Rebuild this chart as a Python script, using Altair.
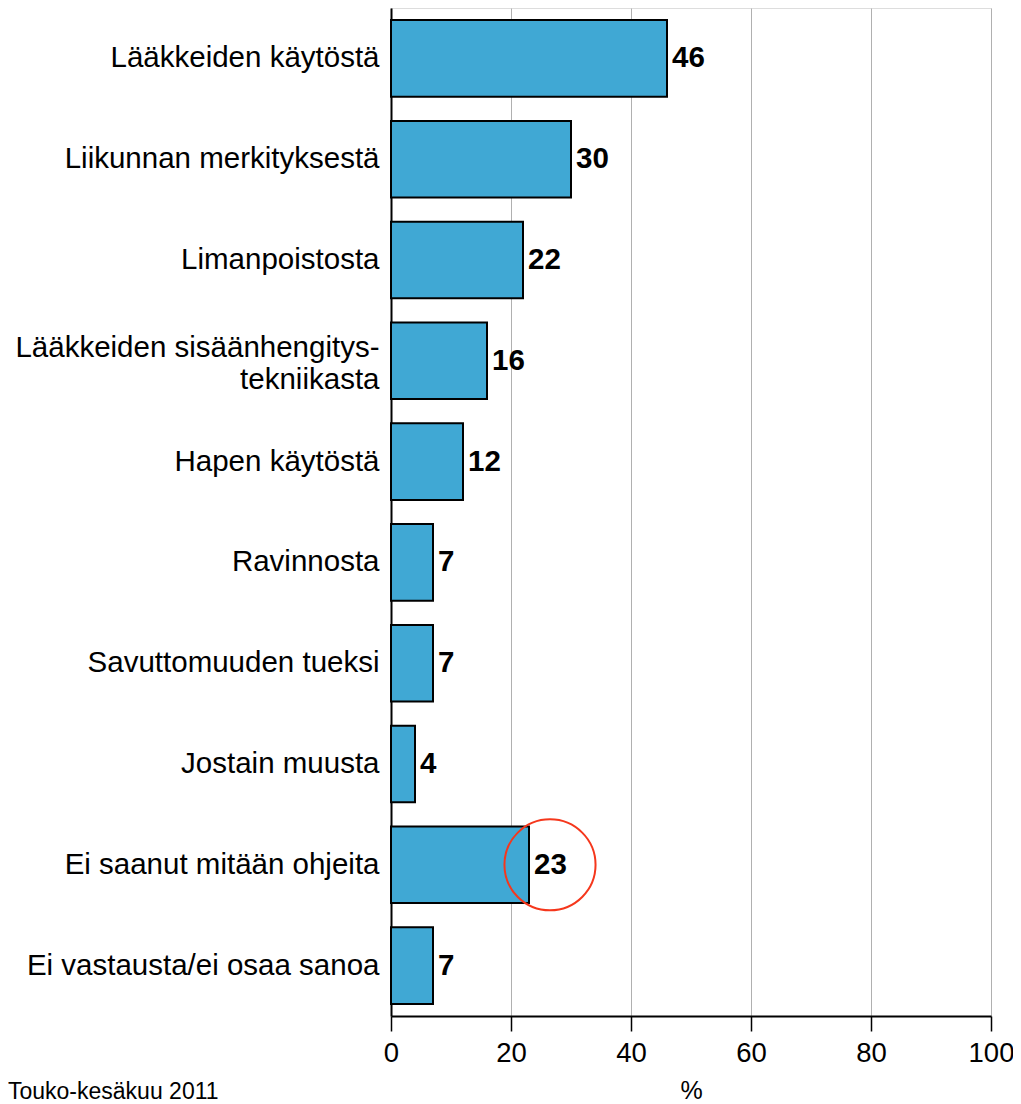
import altair as alt
import pandas as pd

categories = [
    "Lääkkeiden käytöstä",
    "Liikunnan merkityksestä",
    "Limanpoistosta",
    "Lääkkeiden sisäänhengitys-|tekniikasta",
    "Hapen käytöstä",
    "Ravinnosta",
    "Savuttomuuden tueksi",
    "Jostain muusta",
    "Ei saanut mitään ohjeita",
    "Ei vastausta/ei osaa sanoa",
]
values = [46, 30, 22, 16, 12, 7, 7, 4, 23, 7]
x_ticks = [0, 20, 40, 60, 80, 100]
highlight_category = "Ei saanut mitään ohjeita"
highlight_x = 26.5
footnote = "Touko-kesäkuu 2011"

df = pd.DataFrame({"cat": categories, "val": values})

FONT = "Liberation Sans"

y_enc = alt.Y(
    "cat:N",
    sort=categories,
    scale=alt.Scale(paddingInner=0.24, paddingOuter=0.12),
    axis=alt.Axis(
        title=None,
        labelExpr="split(datum.label, '|')",
        labelFontSize=29.5,
        labelFont=FONT,
        labelColor="black",
        labelPadding=12,
        labelLineHeight=32,
        labelOffset={"condition": {"test": "indexof(datum.value, '|') >= 0", "value": -13}, "value": 0},
        ticks=False,
        domainColor="black",
        domainWidth=2,
        labelLimit=400,
    ),
)

x_enc = alt.X(
    "val:Q",
    scale=alt.Scale(domain=[0, 100], nice=False),
    axis=alt.Axis(
        values=x_ticks,
        title="%",
        titleFontSize=25,
        titleFont=FONT,
        titleFontWeight="normal",
        titleColor="black",
        titlePadding=12,
        labelFontSize=27.5,
        labelFont=FONT,
        labelColor="black",
        labelPadding=8,
        labelFlush=False,
        tickSize=15,
        tickColor="black",
        tickWidth=1.5,
        domainColor="black",
        domainWidth=2,
        grid=True,
        gridColor="#b0b0b0",
        gridWidth=1,
    ),
)

bars = alt.Chart(df).mark_bar(
    color="#40A8D4", stroke="black", strokeWidth=2
).encode(x=x_enc, y=y_enc)

labels = alt.Chart(df).mark_text(
    align="left", baseline="middle", dx=5, fontSize=29.5, fontWeight="bold",
    font=FONT, color="black"
).encode(x="val:Q", y=alt.Y("cat:N", sort=categories), text="val:Q")

circ_df = pd.DataFrame({"cat": [highlight_category], "val": [highlight_x]})
circle = alt.Chart(circ_df).mark_point(
    shape="circle", size=8300, filled=False, color="#F5371C", strokeWidth=2, opacity=1
).encode(x="val:Q", y=alt.Y("cat:N", sort=categories))

foot = alt.Chart(pd.DataFrame({"t": [footnote]})).mark_text(
    align="left", baseline="middle", fontSize=23, font=FONT, color="black"
).encode(x=alt.value(-383), y=alt.value(1084), text="t:N")

chart = alt.layer(bars, labels, circle, foot).properties(
    width=600,
    height=1008,
    autosize=alt.AutoSizeParams(type="none"),
    padding={"left": 383, "top": 0, "right": 22, "bottom": 88},
).configure_view(stroke="black", strokeWidth=1.5).configure(background="white")

chart.save("out.html", embed_options={"renderer": "svg", "actions": False})
